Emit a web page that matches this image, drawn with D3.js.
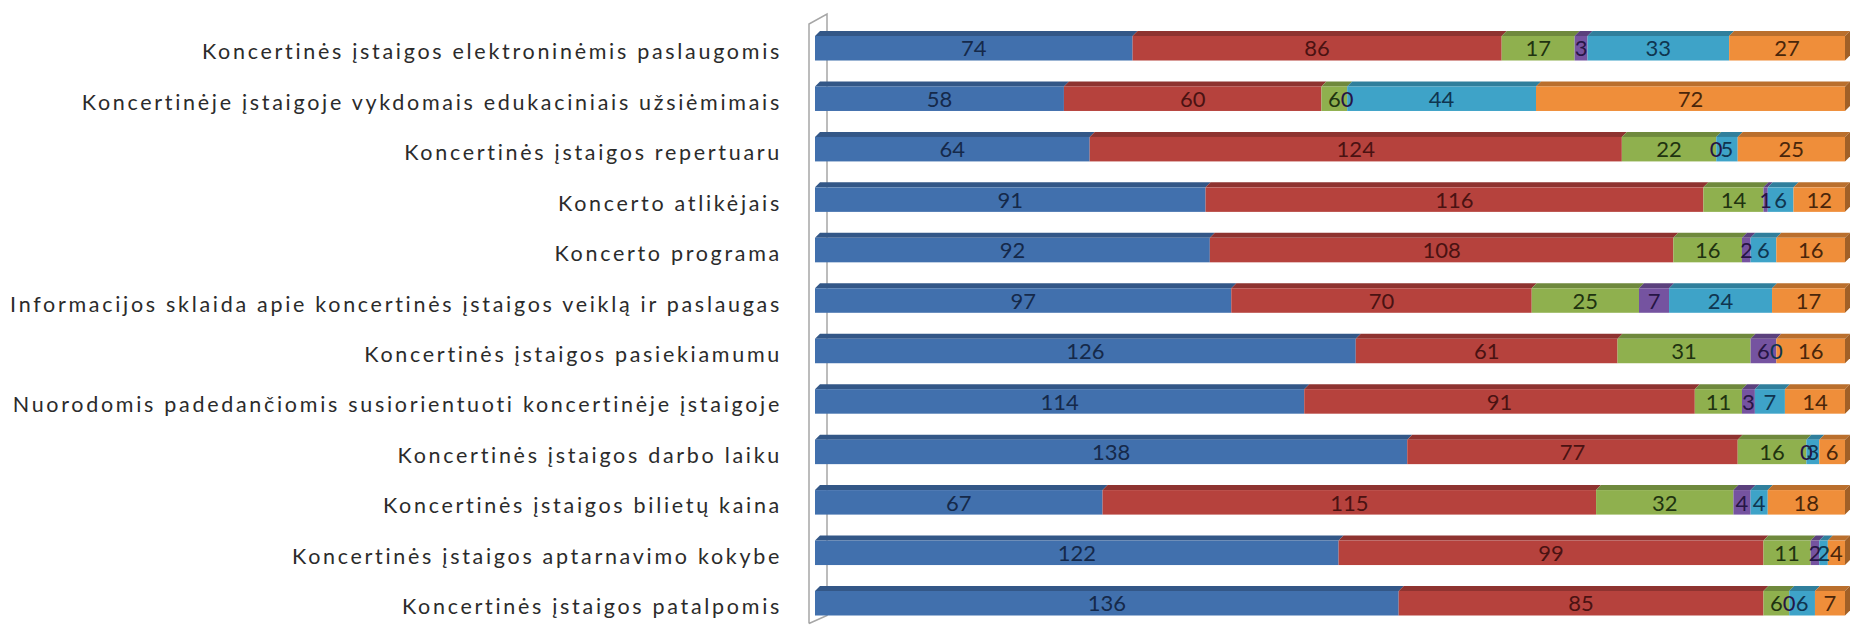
<!DOCTYPE html>
<html>
<head>
<meta charset="utf-8">
<script src="https://cdn.jsdelivr.net/npm/d3@7"></script>
<style>
  html, body { margin: 0; padding: 0; background: #ffffff; }
  svg { display: block; }
</style>
</head>
<body>
<svg id="chart" width="1854" height="626"></svg>
<script>
// ---------------- DATA ----------------
const categories = [
  "Koncertinės įstaigos elektroninėmis paslaugomis",
  "Koncertinėje įstaigoje vykdomais edukaciniais užsiėmimais",
  "Koncertinės įstaigos repertuaru",
  "Koncerto atlikėjais",
  "Koncerto programa",
  "Informacijos sklaida apie koncertinės įstaigos veiklą ir paslaugas",
  "Koncertinės įstaigos pasiekiamumu",
  "Nuorodomis padedančiomis susiorientuoti koncertinėje įstaigoje",
  "Koncertinės įstaigos darbo laiku",
  "Koncertinės įstaigos bilietų kaina",
  "Koncertinės įstaigos aptarnavimo kokybe",
  "Koncertinės įstaigos patalpomis"
];
const seriesNames = ["s1", "s2", "s3", "s4", "s5", "s6"];
const series1 = [74, 58, 64, 91, 92, 97, 126, 114, 138, 67, 122, 136];
const series2 = [86, 60, 124, 116, 108, 70, 61, 91, 77, 115, 99, 85];
const series3 = [17, 6, 22, 14, 16, 25, 31, 11, 16, 32, 11, 6];
const series4 = [3, 0, 0, 1, 2, 7, 6, 3, 0, 4, 2, 0];
const series5 = [33, 44, 5, 6, 6, 24, 0, 7, 3, 4, 2, 6];
const series6 = [27, 72, 25, 12, 16, 17, 16, 14, 6, 18, 4, 7];
const seriesValues = [series1, series2, series3, series4, series5, series6];

// ---------------- STYLE ----------------
const colors = ["#4170ad", "#b6423d", "#8fb04e", "#7553a0", "#3ea3c8", "#ef8e3a"];
const labelColors = ["#15294a", "#4a1212", "#1f3310", "#261545", "#0f3550", "#4a260a"];

const table = categories.map((c, i) => {
  const row = { category: c };
  seriesNames.forEach((s, j) => row[s] = seriesValues[j][i]);
  return row;
});

const stack = d3.stack().keys(seriesNames).offset(d3.stackOffsetExpand);
const stacked = stack(table);

const svg = d3.select("#chart");
const x = d3.scaleLinear().domain([0, 1]).range([815, 1845]);
const y = d3.scaleBand().domain(categories).range([31, 615.5]).paddingInner(0.415).paddingOuter(0);
const bw = y.bandwidth();
const depth = 5;

// back wall of the 3D plot
const wall = svg.append("g").attr("fill", "none").attr("stroke", "#a6a6a6").attr("stroke-width", 1.5);
const wx0 = x(0) - 6, wx1 = x(0) + 12;
const wTop = y.range()[0] - 7, wBot = y.range()[1] + 8;
wall.append("path").attr("d", `M${wx0},${wBot} L${wx0},${wTop} L${wx1},${wTop - 10} L${wx1},${wBot - 8} L${wx0},${wBot}`);

const shade = (c, k) => d3.color(c).darker(k).formatHex();

const g = svg.append("g");
stacked.forEach((layer, si) => {
  const lg = g.append("g");
  layer.forEach((d, ri) => {
    const cat = categories[ri];
    const x0 = x(d[0]), x1 = x(d[1]);
    const top = y(cat);
    if (x1 - x0 > 0) {
      lg.append("polygon")
        .attr("points", `${x0},${top + depth} ${x0 + depth},${top} ${x1 + depth},${top} ${x1},${top + depth}`)
        .attr("fill", shade(colors[si], 0.7));
      lg.append("rect")
        .attr("x", x0).attr("y", top + depth)
        .attr("width", x1 - x0).attr("height", bw - depth)
        .attr("fill", colors[si]);
    }
  });
});
categories.forEach(cat => {
  const top = y(cat);
  const xe = x(1);
  g.append("polygon")
    .attr("points", `${xe},${top + depth} ${xe + depth},${top} ${xe + depth},${top + bw - depth} ${xe},${top + bw}`)
    .attr("fill", shade(colors[5], 1.1));
});

// data labels
const lab = svg.append("g").attr("font-family", "Lato, 'Open Sans', sans-serif").attr("font-size", 22).attr("text-anchor", "middle");
stacked.forEach((layer, si) => {
  layer.forEach((d, ri) => {
    const cat = categories[ri];
    lab.append("text")
      .attr("x", (x(d[0]) + x(d[1])) / 2)
      .attr("y", y(cat) + bw / 2 + 3)
      .attr("dy", "0.35em")
      .attr("fill", labelColors[si])
      .text(seriesValues[si][ri]);
  });
});

// category labels
const cl = svg.append("g").attr("font-family", "Lato, 'Open Sans', sans-serif").attr("font-size", 21.5).attr("text-anchor", "end").attr("fill", "#2b2b2b");
const texts = categories.map(c => cl.append("text")
  .attr("x", 782)
  .attr("y", y(c) + bw / 2 + 6)
  .attr("dy", "0.35em")
  .text(c));
const longest = texts.reduce((a, t) => t.node().getComputedTextLength() > a.node().getComputedTextLength() ? t : a);
const L = longest.node().getComputedTextLength();
const n = longest.text().length;
cl.attr("letter-spacing", Math.max(0, (770 - L) / n).toFixed(3));
</script>
</body>
</html>
